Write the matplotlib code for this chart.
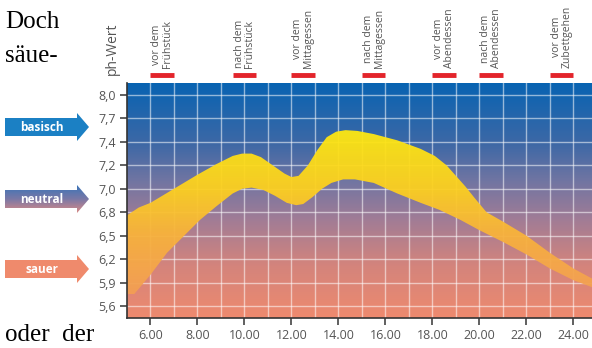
import matplotlib.pyplot as plt
import numpy as np
from matplotlib.colors import LinearSegmentedColormap
from matplotlib.patches import Polygon

# pH scale (ticks are evenly spaced although the values are not)
ph_ticks = [5.6, 5.9, 6.2, 6.5, 6.8, 7.0, 7.2, 7.4, 7.7, 8.0]
ph_labels = ["5,6", "5,9", "6,2", "6,5", "6,8", "7,0", "7,2", "7,4", "7,7", "8,0"]
hour_ticks = [6, 8, 10, 12, 14, 16, 18, 20, 22, 24]
hour_labels = ["6.00", "8.00", "10.00", "12.00", "14.00", "16.00", "18.00", "20.00", "22.00", "24.00"]

# upper / lower edge of the pH band
up_h = [5.0, 5.5, 6.0, 7.0, 8.0, 8.8, 9.5, 9.9, 10.3, 10.7, 11.2, 11.7, 12.0, 12.3,
        12.7, 13.1, 13.5, 13.9, 14.3, 14.8, 15.5, 16.5, 17.5, 18.1, 18.6, 19.0,
        19.4, 19.8, 20.3, 21.0, 22.0, 23.0, 24.0, 24.8]
up_ph = [6.76, 6.84, 6.88, 7.0, 7.12, 7.21, 7.28, 7.30, 7.30, 7.27, 7.20, 7.13, 7.10, 7.11,
         7.20, 7.33, 7.46, 7.53, 7.55, 7.54, 7.50, 7.42, 7.34, 7.28, 7.20, 7.11,
         7.02, 6.92, 6.80, 6.68, 6.50, 6.28, 6.08, 5.95]
lo_h = [5.0, 5.3, 6.0, 6.7, 7.5, 8.1, 8.8, 9.5, 9.9, 10.3, 10.8, 11.3, 11.8, 12.2,
        12.5, 12.9, 13.3, 13.7, 14.2, 14.7, 15.5, 16.5, 17.5, 18.3, 19.2, 20.0,
        21.0, 22.0, 23.0, 24.0, 24.8]
lo_ph = [5.62, 5.75, 6.0, 6.28, 6.52, 6.70, 6.85, 6.96, 7.0, 7.01, 6.99, 6.94, 6.88, 6.86,
         6.87, 6.93, 7.0, 7.05, 7.08, 7.08, 7.05, 6.96, 6.88, 6.82, 6.70, 6.57,
         6.42, 6.26, 6.08, 5.93, 5.84]

# meal markers
meal_h = [6.5, 10.0, 12.5, 15.5, 18.5, 20.5, 23.5]
meal_labels = ["vor dem\nFrühstück", "nach dem\nFrühstück", "vor dem\nMittagessen",
               "nach dem\nMittagessen", "vor dem\nAbendessen", "nach dem\nAbendessen",
               "vor dem\nZubettgehen"]

ypos = np.arange(len(ph_ticks))


def to_pos(ph):
    return np.interp(ph, ph_ticks, ypos)


plt.rcParams['font.family'] = ['Open Sans', 'DejaVu Sans']
fig = plt.figure(figsize=(5.92, 3.48), dpi=100)

# overlay for the arrows and page text (pixel coords)
ov = fig.add_axes([0, 0, 1, 1], zorder=0)
ov.set_xlim(0, 592)
ov.set_ylim(348, 0)
ov.axis("off")

ax = fig.add_axes([127 / 592, 1 - 318 / 348, 465 / 592, 235 / 348], zorder=1)

# background gradient
bg_cmap = LinearSegmentedColormap.from_list(
    "bg", [(0.0, "#ee8a6e"), (0.22, "#d4847c"), (0.42, "#a07c96"),
           (0.58, "#7175a2"), (0.74, "#3d68a6"), (1.0, "#0763b2")])
grad = np.linspace(0, 1, 256).reshape(-1, 1)
ax.imshow(grad, aspect="auto", cmap=bg_cmap, origin="lower",
          extent=(5.0, 24.79, -0.51, 9.51), zorder=0)

# grid
for h in np.arange(6, 25):
    ax.axvline(h, color="white", lw=1.0, alpha=0.55, zorder=1)
for p in ypos:
    ax.axhline(p, color="white", lw=1.0, alpha=0.55, zorder=1)

# band with yellow/orange gradient
px = np.concatenate([up_h, lo_h[::-1]])
py = np.concatenate([to_pos(up_ph), to_pos(lo_ph)[::-1]])
band = Polygon(np.column_stack([px, py]), closed=True, facecolor="none",
               edgecolor="none", transform=ax.transData)
ax.add_patch(band)
band_cmap = LinearSegmentedColormap.from_list(
    "band", [(0.0, "#f39e55"), (0.35, "#f8b23c"), (0.65, "#fdd21e"), (1.0, "#ffea10")])
bimg = ax.imshow(grad, aspect="auto", cmap=band_cmap, origin="lower",
                 extent=(5.0, 24.79, 0.5, 7.6), zorder=2, alpha=0.95)
bimg.set_clip_path(band)
ax.set_xlim(5.0, 24.79)
ax.set_ylim(-0.51, 9.51)

# axes styling
for s in ["top", "right"]:
    ax.spines[s].set_visible(False)
for s in ["left", "bottom"]:
    ax.spines[s].set_color("#333333")
    ax.spines[s].set_linewidth(1.2)
ax.set_yticks(ypos)
ax.set_yticklabels(ph_labels)
ax.set_xticks(hour_ticks)
ax.set_xticklabels(hour_labels)
ax.tick_params(axis="both", colors="#444444", labelcolor="#555555", labelsize=9,
               length=5, width=1.2, pad=3)

# meal markers
for h, lab in zip(meal_h, meal_labels):
    ax.plot([h - 0.5, h + 0.5], [1.034, 1.034], color="#e3242b", lw=3.5,
            solid_capstyle="butt", transform=ax.get_xaxis_transform(), clip_on=False)
    ax.text(h, 1.062, lab, rotation=90, ha="center", va="bottom", fontsize=7.5,
            color="#555555", linespacing=0.95, transform=ax.get_xaxis_transform())

fig.text(112 / 592, 1 - 75 / 348, "ph-Wert", rotation=90, ha="center", va="bottom",
         fontsize=10, color="#555555")

# page text around the figure
ov.text(5, 28, "Doch", fontsize=18, family="Liberation Serif", color="black")
ov.text(5, 62, "säue-", fontsize=18, family="Liberation Serif", color="black")
ov.text(5, 341, "oder  der", fontsize=18, family="Liberation Serif", color="black")


def arrow(yc, color, label, cmap=None):
    pts = [(5, yc - 9), (77, yc - 9), (77, yc - 14), (89, yc), (77, yc + 14),
           (77, yc + 9), (5, yc + 9)]
    poly = Polygon(pts, closed=True, facecolor=color if cmap is None else "none",
                   edgecolor="none", zorder=2)
    ov.add_patch(poly)
    if cmap is not None:
        img = ov.imshow(np.linspace(0, 1, 64).reshape(-1, 1), aspect="auto", cmap=cmap,
                        extent=(5, 89, yc + 14, yc - 14), zorder=2)
        img.set_clip_path(poly)
        ov.set_xlim(0, 592)
        ov.set_ylim(348, 0)
    ov.text(42, yc + 0.5, label, ha="center", va="center", color="white",
            fontsize=8.5, fontweight="bold", zorder=3)


arrow(127, "#1b80c4", "basisch")
arrow(199, None, "neutral",
      cmap=LinearSegmentedColormap.from_list("n", ["#3a74b8", "#7a78a6", "#d88a86"]))
arrow(269, "#ef8a6c", "sauer")

fig.savefig("out.png", dpi=100)
